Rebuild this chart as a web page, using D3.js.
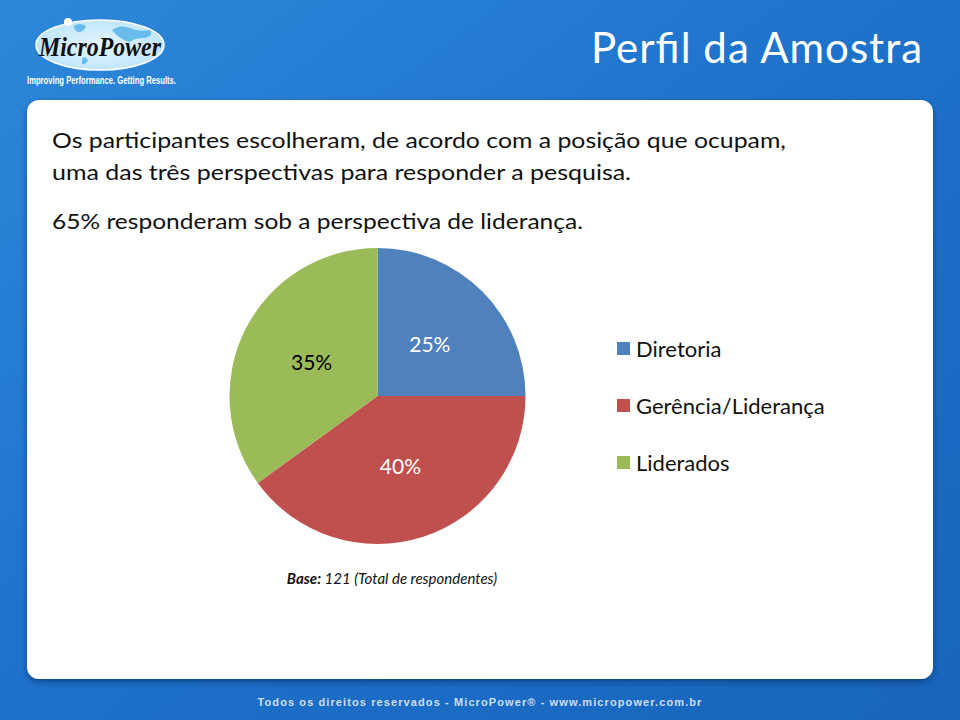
<!DOCTYPE html>
<html><head><meta charset="utf-8">
<script src="https://cdn.jsdelivr.net/npm/d3@7"></script>
<style>html,body{margin:0;padding:0;overflow:hidden;background:#1766c2}</style>
</head><body>
<script>
const categories = ["Diretoria", "Gerência/Liderança", "Liderados"];
const values = [25, 40, 35];
const colors = ["#4f81bd", "#c0504d", "#9bbb59"];
const labelColors = ["#ffffff", "#ffffff", "#000000"];
const introLines = [
  "Os participantes escolheram, de acordo com a posição que ocupam,",
  "uma das três perspectivas para responder a pesquisa.",
  "65% responderam sob a perspectiva de liderança."
];
const titleText = "Perfil da Amostra";
const footerText = "Todos os direitos reservados - MicroPower® - www.micropower.com.br";

const W = 960, H = 720;
const svg = d3.select("body").append("svg").attr("width", W).attr("height", H);
const defs = svg.append("defs");

const bg = defs.append("linearGradient").attr("id","bg").attr("x1","0").attr("y1","0").attr("x2","1").attr("y2","1");
bg.append("stop").attr("offset","0").attr("stop-color","#2a86da");
bg.append("stop").attr("offset","0.5").attr("stop-color","#1a6fc9");
bg.append("stop").attr("offset","1").attr("stop-color","#1462bb");
svg.append("rect").attr("width",W).attr("height",H).attr("fill","url(#bg)");

const pat = defs.append("pattern").attr("id","tex").attr("width",4).attr("height",4).attr("patternUnits","userSpaceOnUse");
pat.append("path").attr("d","M0,4 L4,0").attr("stroke","#ffffff").attr("stroke-opacity",0.06).attr("stroke-width",1);
svg.append("rect").attr("width",W).attr("height",H).attr("fill","url(#tex)");

// logo
const logo = svg.append("g");
const eg = defs.append("radialGradient").attr("id","eg");
eg.append("stop").attr("offset","0").attr("stop-color","#e6f6ff");
eg.append("stop").attr("offset","1").attr("stop-color","#bfe6fb");
logo.append("ellipse").attr("cx",100).attr("cy",45).attr("rx",64).attr("ry",25).attr("fill","url(#eg)").attr("stroke","#ffffff").attr("stroke-width",1.5);
logo.append("path").attr("d","M112,30 q8,-6 18,-2 q8,4 20,2 q4,6 -6,8 q-10,0 -14,4 q-10,-2 -18,-12z").attr("fill","#4fb0e6").attr("opacity",0.8);
logo.append("path").attr("d","M74,26 q6,-4 12,0 q-2,6 -8,6 q-4,-2 -4,-6z").attr("fill","#4fb0e6").attr("opacity",0.8);
logo.append("path").attr("d","M82,58 q4,-2 6,2 q-2,5 -6,4z").attr("fill","#4fb0e6").attr("opacity",0.8);
logo.append("circle").attr("cx",68).attr("cy",22).attr("r",4).attr("fill","#ffffff");
logo.append("text").attr("x",100).attr("y",56).attr("text-anchor","middle")
  .attr("font-family","Liberation Serif, DejaVu Serif, serif").attr("font-weight","bold").attr("font-style","italic")
  .attr("font-size",27).attr("fill","#111").attr("textLength",122).attr("lengthAdjust","spacingAndGlyphs").text("MicroPower");
logo.append("text").attr("x",27).attr("y",84)
  .attr("font-family","Liberation Sans Narrow, Liberation Sans, sans-serif").attr("font-weight","bold")
  .attr("font-size",11).attr("fill","#ffffff").attr("textLength",149).attr("lengthAdjust","spacingAndGlyphs").text("Improving Performance. Getting Results.");

// title
svg.append("text").attr("x",922).attr("y",63).attr("text-anchor","end")
  .attr("font-family","Lato, 'Open Sans', sans-serif").attr("font-size",42).attr("fill","#ffffff")
  .attr("textLength",331).text(titleText);

// panel
const sh = defs.append("filter").attr("id","sh").attr("x","-5%").attr("y","-5%").attr("width","110%").attr("height","112%");
sh.append("feDropShadow").attr("dx",0).attr("dy",3).attr("stdDeviation",3).attr("flood-color","#00204a").attr("flood-opacity",0.5);
svg.append("rect").attr("x",27).attr("y",100).attr("width",906).attr("height",579).attr("rx",12)
  .attr("fill","#ffffff").attr("filter","url(#sh)");

// intro text
const lineY = [148, 180, 229];
const lineW = [734, 579, 531];
svg.append("g").selectAll("text").data(introLines).join("text")
  .attr("x",52).attr("y",(d,i)=>lineY[i])
  .attr("font-family","Lato, 'Open Sans', sans-serif").attr("font-size",22).attr("fill","#111")
  .attr("textLength",(d,i)=>lineW[i]).attr("lengthAdjust","spacingAndGlyphs")
  .text(d=>d);

// pie
const cx = 377.5, cy = 396, r = 148;
const pie = d3.pie().sort(null).value(d=>d)(values);
const arc = d3.arc().innerRadius(0).outerRadius(r);
const g = svg.append("g").attr("transform",`translate(${cx},${cy})`);
g.selectAll("path").data(pie).join("path").attr("d",arc).attr("fill",(d,i)=>colors[i]);
const labelArc = d3.arc().innerRadius(r*0.5).outerRadius(r*0.5);
g.selectAll("text").data(pie).join("text")
  .attr("transform",d=>{
    const c = labelArc.centroid(d);
    return `translate(${c[0]},${c[1]})`;
  })
  .attr("text-anchor","middle").attr("dy","0.38em")
  .attr("font-family","Lato, 'Open Sans', sans-serif").attr("font-size",21)
  .attr("fill",(d,i)=>labelColors[i]).text(d=>d.data+"%");

// legend
const lg = svg.append("g");
const legY = [349, 406, 463];
lg.selectAll("rect").data(categories).join("rect")
  .attr("x",617).attr("y",(d,i)=>legY[i]-7).attr("width",13).attr("height",13).attr("fill",(d,i)=>colors[i]);
lg.selectAll("text").data(categories).join("text")
  .attr("x",636).attr("y",(d,i)=>legY[i]).attr("dy","0.35em")
  .attr("font-family","Lato, 'Open Sans', sans-serif").attr("font-size",22).attr("fill","#111").text(d=>d);

// base note
const bt = svg.append("text").attr("x",392).attr("y",584).attr("text-anchor","middle")
  .attr("font-family","Lato, 'Open Sans', sans-serif").attr("font-style","italic").attr("font-size",15).attr("fill","#111");
bt.append("tspan").attr("font-weight","bold").text("Base:");
bt.append("tspan").text(" 121 (Total de respondentes)");

// footer
svg.append("text").attr("x",480).attr("y",706).attr("text-anchor","middle")
  .attr("font-family","Liberation Sans, Arial, sans-serif").attr("font-weight","bold").attr("font-size",11)
  .attr("fill","#cfdff0").attr("letter-spacing","1.1px").text(footerText);
</script>
</body></html>
